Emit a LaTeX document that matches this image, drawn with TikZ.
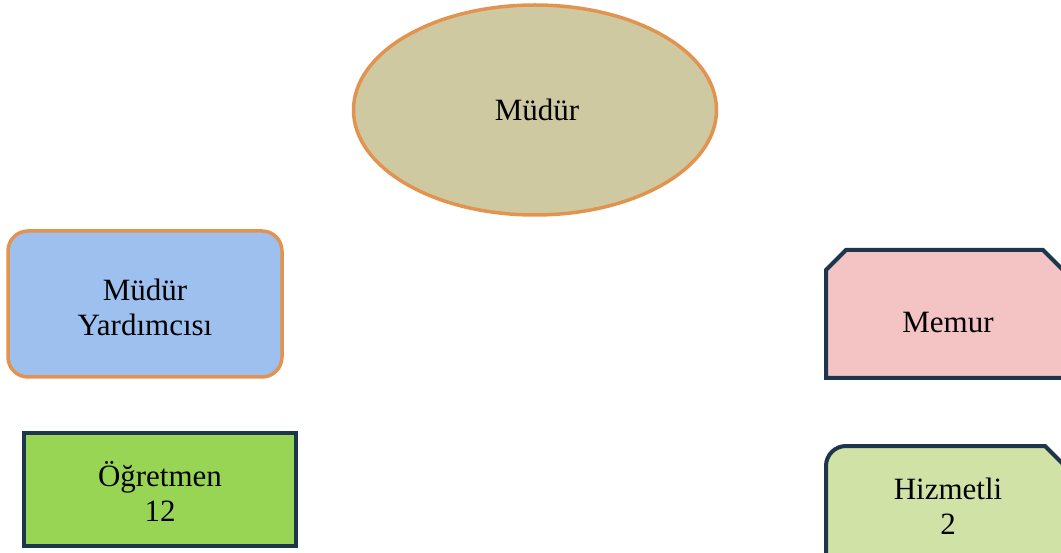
\documentclass[tikz,border=0pt]{standalone}
\usepackage{fontspec}
\setmainfont{Liberation Serif}
\usetikzlibrary{shapes.geometric}
\definecolor{tan}{HTML}{CFC9A1}
\definecolor{orng}{HTML}{E39350}
\definecolor{lblue}{HTML}{9DC0EF}
\definecolor{grn}{HTML}{99D555}
\definecolor{navy}{HTML}{1E354E}
\definecolor{pink}{HTML}{F4C4C4}
\definecolor{lgrn}{HTML}{D1E2A6}
\tikzset{
  lbl/.style={align=center,font=\fontsize{31}{35}\selectfont,text=black},
  obord/.style={draw=orng,line width=3.5pt},
  nbord/.style={draw=navy,line width=4pt},
}
\begin{document}
\begin{tikzpicture}[x=1pt,y=-1pt]
\useasboundingbox (0,0) rectangle (1061,553);
% Mudur ellipse
\node[ellipse,obord,fill=tan,minimum width=363pt,minimum height=210pt,inner sep=0pt] (mudur) at (535,110) {};
\node[lbl] (mudurt) at (537,110) {Müdür};
% Mudur Yardimcisi
\draw[obord,fill=lblue,rounded corners=20pt] (8,231) rectangle (282,377);
\node[lbl] (yard) at (145,307) {Müdür\\Yardımcısı};
% Ogretmen
\draw[nbord,fill=grn] (24,433) rectangle (296,546);
\node[lbl] (ogr) at (160,491) {Öğretmen\\12};
% Memur
\draw[nbord,fill=pink] (826,378) -- (826,270) -- (846,250) -- (1043,250) -- (1063,270) -- (1063,378) -- cycle;
\node[lbl] (memur) at (948,323) {Memur};
% Hizmetli
\draw[nbord,fill=lgrn] (826,560) -- (826,466) arc[start angle=180,end angle=90,radius=20pt] -- (1045,446) -- (1065,466) -- (1065,560);
\node[lbl] (hiz) at (948,506) {Hizmetli\\2};
\end{tikzpicture}
\end{document}
